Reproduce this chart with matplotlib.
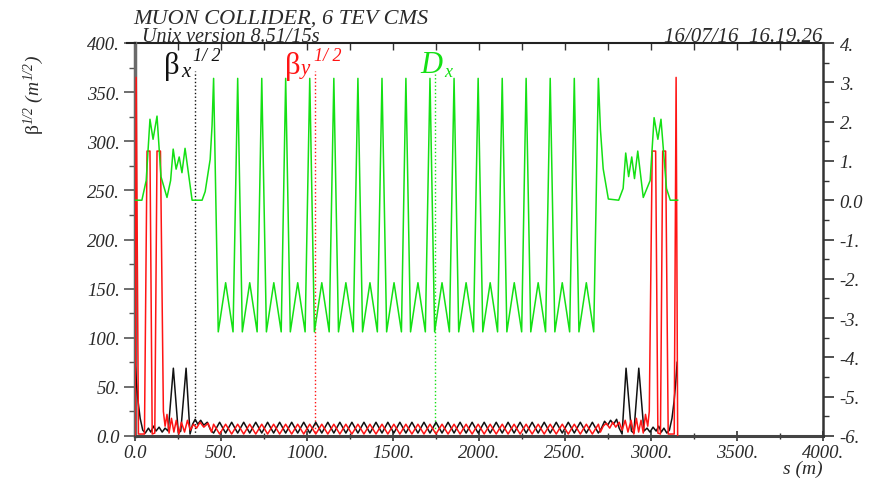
import matplotlib
matplotlib.use('Agg')
import matplotlib.pyplot as plt
from matplotlib.ticker import MultipleLocator, FuncFormatter
from matplotlib.lines import Line2D

plt.rcParams['font.family'] = ['Liberation Serif', 'DejaVu Serif']
plt.rcParams['font.style'] = 'italic'
plt.rcParams['mathtext.fontset'] = 'custom'
plt.rcParams['mathtext.rm'] = 'Liberation Serif'
plt.rcParams['mathtext.it'] = 'Liberation Serif:italic'

title = 'MUON COLLIDER, 6 TEV CMS'
version = 'Unix version 8.51/15s'
stamp = '16/07/16  16.19.26'

# horizontal dispersion D_x (m) -> right axis
dx_s = [0, 40, 65, 87, 105, 128, 151, 186, 207, 222, 239, 257, 273, 291, 332, 390, 408, 437, 448,
        457, 484, 527, 570,
        597, 624, 667, 710,
        737, 764, 807, 850,
        876, 903, 946, 989,
        1016, 1043, 1086, 1129,
        1156, 1183, 1226, 1269,
        1296, 1323, 1366, 1409,
        1436, 1463, 1506, 1549,
        1575, 1602, 1645, 1688,
        1715, 1742, 1785, 1828,
        1855, 1882, 1925, 1968,
        1995, 2022, 2065, 2108,
        2135, 2162, 2205, 2248,
        2274, 2301, 2344, 2387,
        2414, 2441, 2484, 2527,
        2554, 2581, 2624, 2667,
        2694,
        2706, 2722, 2752, 2812, 2838, 2853, 2870, 2888, 2904, 2923, 2955, 2995, 3018, 3040, 3058,
        3090, 3112, 3155]
dx_val = [0.0, 0.0, 0.5, 2.06, 1.55, 2.14, 0.6, 0.07, 0.5, 1.3, 0.79, 1.1, 0.7, 1.32, 0.0, 0.0, 0.22, 1.04, 1.9,
          3.1, -3.35, -2.1, -3.35,
          3.1, -3.35, -2.1, -3.35,
          3.1, -3.35, -2.1, -3.35,
          3.1, -3.35, -2.1, -3.35,
          3.1, -3.35, -2.1, -3.35,
          3.1, -3.35, -2.1, -3.35,
          3.1, -3.35, -2.1, -3.35,
          3.1, -3.35, -2.1, -3.35,
          3.1, -3.35, -2.1, -3.35,
          3.1, -3.35, -2.1, -3.35,
          3.1, -3.35, -2.1, -3.35,
          3.1, -3.35, -2.1, -3.35,
          3.1, -3.35, -2.1, -3.35,
          3.1, -3.35, -2.1, -3.35,
          3.1, -3.35, -2.1, -3.35,
          3.1, -3.35, -2.1, -3.35,
          3.1,
          1.8, 0.8, 0.03, 0.0, 0.3, 1.2, 0.6, 1.1, 0.55, 1.25, 0.07, 0.5, 2.1, 1.55, 2.06,
          0.3, 0.0, 0.0]

# positions used by both beta curves in the arc
arc_s = [457, 492, 527, 562, 597, 632, 667, 702,
         737, 771, 806, 841, 876, 911, 946, 981,
         1016, 1051, 1086, 1121, 1156, 1191, 1226, 1261,
         1296, 1331, 1366, 1401, 1436, 1470, 1505, 1540,
         1575, 1610, 1645, 1680, 1715, 1750, 1785, 1820,
         1855, 1890, 1925, 1960, 1995, 2030, 2065, 2100,
         2135, 2169, 2204, 2239, 2274, 2309, 2344, 2379,
         2414, 2449, 2484, 2519, 2554, 2589, 2624, 2659,
         2694]

# sqrt(beta_x) (m^1/2) -> left axis
bx_left_s = [0, 8, 18, 30, 45, 60, 78, 92, 108, 122, 140, 158, 175, 193, 223, 252, 266, 297, 320,
             335, 350, 365, 382, 400, 420, 440]
bx_left = [75, 55, 35, 18, 6, 3, 8, 4, 10, 5, 9, 4, 8, 5, 69, 3, 5, 69, 2,
           12, 17, 12, 16, 11, 14, 6]
bx_arc = [3, 14, 3, 14, 3, 14, 3, 14,
          3, 14, 3, 14, 3, 14, 3, 14,
          3, 14, 3, 14, 3, 14, 3, 14,
          3, 14, 3, 14, 3, 14, 3, 14,
          3, 14, 3, 14, 3, 14, 3, 14,
          3, 14, 3, 14, 3, 14, 3, 14,
          3, 14, 3, 14, 3, 14, 3, 14,
          3, 14, 3, 14, 3, 14, 3, 14,
          3]
bx_right_s = [2712, 2730, 2748, 2765, 2782, 2800, 2815, 2832, 2855, 2886, 2900, 2929, 2959, 2977,
              2994, 3012, 3030, 3045, 3060, 3075, 3092, 3107, 3122, 3134, 3144, 3152]
bx_right = [8, 15, 11, 16, 12, 17, 8, 2, 69, 5, 3, 69, 5, 8,
            4, 9, 5, 10, 4, 8, 3, 6, 18, 35, 55, 75]

# sqrt(beta_y) (m^1/2) -> left axis
by_left_s = [0, 7, 20, 55, 70, 87, 100, 115, 128, 148, 165, 175, 186, 198, 212, 226, 240, 255,
             270, 288, 305, 322, 340, 358, 378, 400, 425, 445]
by_left = [0, 365, 2, 2, 290, 290, 2, 3, 290, 290, 25, 10, 22, 3, 18, 4, 16, 2,
           14, 4, 16, 6, 12, 8, 14, 9, 13, 4]
by_arc = [12, 2, 12, 2, 12, 2, 12, 2,
          12, 2, 12, 2, 12, 2, 12, 2,
          12, 2, 12, 2, 12, 2, 12, 2,
          12, 2, 12, 2, 12, 2, 12, 2,
          12, 2, 12, 2, 12, 2, 12, 2,
          12, 2, 12, 2, 12, 2, 12, 2,
          12, 2, 12, 2, 12, 2, 12, 2,
          12, 2, 12, 2, 12, 2, 12, 2,
          12]
by_right_s = [2706, 2722, 2740, 2760, 2778, 2795, 2815, 2832, 2850, 2866, 2884, 2900, 2915, 2928,
              2942, 2955, 2968, 2981, 2990, 3007, 3027, 3040, 3055, 3068, 3085, 3100, 3135, 3146, 3155]
by_right = [4, 10, 13, 8, 14, 9, 14, 6, 16, 4, 16, 2, 18, 4,
            16, 3, 22, 10, 25, 290, 290, 3, 2, 290, 290, 2, 2, 365, 0]

# where MAD puts the curve labels (s in m)
label_s = {'bx': 349, 'by': 1048, 'dx': 1747}

BLACK = '#111111'
RED = '#ff1414'
GREEN = '#14e014'
TXT = '#2a2a2a'

W, H = 879, 481


def fx(x):
    return x / W


def fy(y):
    return 1 - y / H


def num_fmt(v, pos):
    return '0.0' if abs(v) < 1e-9 else f'{v:.0f}.'


fig = plt.figure(figsize=(W / 100, H / 100), dpi=100)
ax = fig.add_axes([fx(135), fy(437), (823 - 135) / W, (437 - 44) / H])
ax2 = ax.twinx()

bx_s = bx_left_s + arc_s + bx_right_s
bx_val = bx_left + bx_arc + bx_right
by_s = by_left_s + arc_s + by_right_s
by_val = by_left + by_arc + by_right

ax.plot(bx_s, bx_val, color=BLACK, lw=1.1, zorder=3)
ax.plot(by_s, by_val, color=RED, lw=1.1, zorder=4)
ax2.plot(dx_s, dx_val, color=GREEN, lw=1.1)

ax.set_xlim(0, 4000)
ax.set_ylim(0, 400)
ax2.set_ylim(-6, 4)

# label markers: dotted verticals
ax.axvline(label_s['bx'], ymax=0.929, color=BLACK, ls=':', lw=1)
ax.axvline(label_s['by'], ymax=0.929, color=RED, ls=':', lw=1)
ax.axvline(label_s['dx'], ymax=0.921, color=GREEN, ls=':', lw=1)

ax.xaxis.set_major_locator(MultipleLocator(500))
ax.xaxis.set_minor_locator(MultipleLocator(250))
ax.yaxis.set_major_locator(MultipleLocator(50))
ax.yaxis.set_minor_locator(MultipleLocator(25))
ax2.yaxis.set_major_locator(MultipleLocator(1))
ax2.yaxis.set_minor_locator(MultipleLocator(0.5))
for a in (ax.xaxis, ax.yaxis, ax2.yaxis):
    a.set_major_formatter(FuncFormatter(num_fmt))

ax.tick_params(axis='x', which='major', direction='inout', length=7, width=1.2,
               labelsize=13.5, labelcolor=TXT, pad=2, color='#333333')
ax.tick_params(axis='x', which='minor', direction='inout', length=5, width=1.0, color='#333333')
ax.tick_params(axis='y', which='major', direction='out', length=8, width=1.2,
               labelsize=13.5, labelcolor=TXT, pad=3, color='#555555')
ax.tick_params(axis='y', which='minor', direction='out', length=4, width=1.0, color='#555555')
ax2.tick_params(axis='y', which='major', direction='out', length=8, width=1.2,
                labelsize=13.5, labelcolor=TXT, pad=4, color='#333333')
ax2.tick_params(axis='y', which='minor', direction='out', length=4, width=1.0, color='#333333')

top = ax.secondary_xaxis('top')
top.xaxis.set_major_locator(MultipleLocator(250))
top.tick_params(direction='in', length=5, width=1.0, labeltop=False, color='#333333')
top.spines['top'].set_color('#222222')
top.spines['top'].set_linewidth(1.5)

for sp in ('top', 'right'):
    ax.spines[sp].set_visible(False)
ax.spines['left'].set_color('#6a6a6a')
ax.spines['left'].set_linewidth(2.5)
ax.spines['bottom'].set_color('#444444')
ax.spines['bottom'].set_linewidth(2.2)
for sp in ('top', 'left', 'bottom'):
    ax2.spines[sp].set_visible(False)
ax2.spines['right'].set_color('#333333')
ax2.spines['right'].set_linewidth(1.8)

# top rule sticks out a little to the left of the frame
fig.add_artist(Line2D([fx(127), fx(135)], [fy(44), fy(44)], color='#222222', lw=1.5))

# header
fig.text(fx(133), fy(24), title, fontsize=16, color=TXT, va='baseline')
fig.text(fx(142), fy(42), version, fontsize=14.5, color=TXT, va='baseline')
fig.text(fx(823), fy(42), stamp, fontsize=15, color=TXT, va='baseline', ha='right')

# axis titles
fig.text(fx(34), fy(95), r'β$^{1/2}$ $(m^{1/2})$', rotation=90, fontsize=14,
         color=TXT, ha='center', va='center', fontstyle='normal')
fig.text(fx(823), fy(474), 's (m)', fontsize=14, color=TXT, ha='right', va='baseline')

# curve labels
fig.text(fx(164), fy(74), 'β', fontsize=22, fontstyle='normal', color=BLACK, va='baseline')
fig.text(fx(181), fy(77), 'x', fontsize=15, color=BLACK, va='baseline')
fig.text(fx(193), fy(61), '1/ 2', fontsize=13, color=BLACK, va='baseline')
fig.text(fx(285), fy(74), 'β', fontsize=22, fontstyle='normal', color=RED, va='baseline')
fig.text(fx(301), fy(74), 'y', fontsize=15, color=RED, va='baseline')
fig.text(fx(314), fy(61), '1/ 2', fontsize=13, color=RED, va='baseline')
fig.text(fx(420), fy(73), 'D', fontsize=22, color=GREEN, va='baseline')
fig.text(fx(444), fy(77), 'x', fontsize=13, color=GREEN, va='baseline')

fig.savefig('out.png', dpi=100)
